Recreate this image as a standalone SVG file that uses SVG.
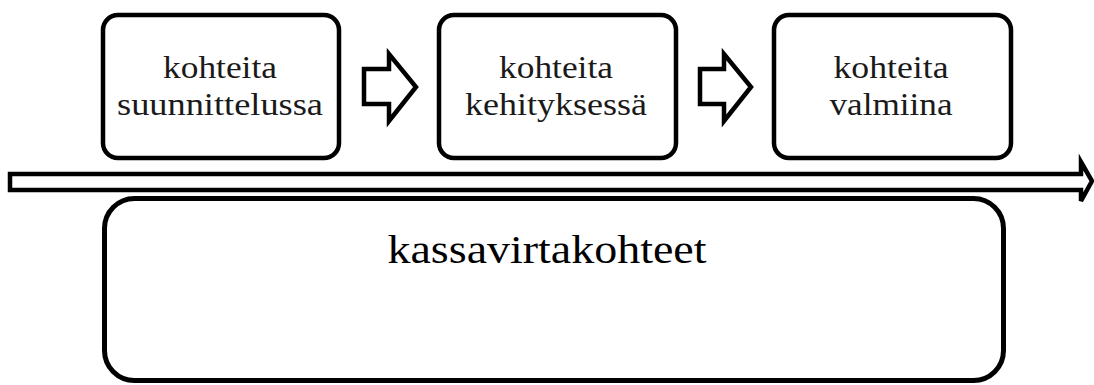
<svg xmlns="http://www.w3.org/2000/svg" width="1094" height="385" viewBox="0 0 1094 385">
<style>
.box{fill:#fff;stroke:#000;stroke-width:4.5}
.big{fill:#fff;stroke:#000;stroke-width:5}
.arr{fill:#fff;stroke:#000;stroke-width:4.5;stroke-linejoin:miter}
.t{font-family:"Liberation Serif","Times New Roman",serif;font-size:31px;fill:#1a1a1a;text-anchor:middle}
.tb{font-family:"Liberation Serif","Times New Roman",serif;font-size:40px;fill:#000;text-anchor:middle}
</style>
<rect width="1094" height="385" fill="#fff"/>
<g id="connectors">
<polygon class="arr" points="364,69 389,69 389,54 416,87 389,121 389,104 364,104"/>
<polygon class="arr" points="700,69 724,69 724,54 751,87 724,121 724,104 700,104"/>
<polygon class="arr" points="10,174 1081,174 1081,162 1092,181 1081,201 1081,190 10,190"/>
</g>
<g id="node1">
<rect class="box" x="103" y="15" width="236" height="143" rx="15"/>
<text class="t" x="220" y="78" textLength="114" lengthAdjust="spacingAndGlyphs">kohteita</text>
<text class="t" x="220" y="115" textLength="206" lengthAdjust="spacingAndGlyphs">suunnittelussa</text>
</g>
<g id="node2">
<rect class="box" x="439" y="15" width="237" height="143" rx="15"/>
<text class="t" x="556" y="78" textLength="114" lengthAdjust="spacingAndGlyphs">kohteita</text>
<text class="t" x="556" y="115" textLength="182" lengthAdjust="spacingAndGlyphs">kehityksessä</text>
</g>
<g id="node3">
<rect class="box" x="774" y="15" width="237" height="143" rx="15"/>
<text class="t" x="891" y="78" textLength="115" lengthAdjust="spacingAndGlyphs">kohteita</text>
<text class="t" x="891" y="115" textLength="123" lengthAdjust="spacingAndGlyphs">valmiina</text>
</g>
<g id="node4">
<rect class="big" x="104.5" y="198.5" width="899" height="182" rx="30"/>
<text class="tb" x="547" y="263" textLength="319" lengthAdjust="spacingAndGlyphs">kassavirtakohteet</text>
</g>
</svg>
